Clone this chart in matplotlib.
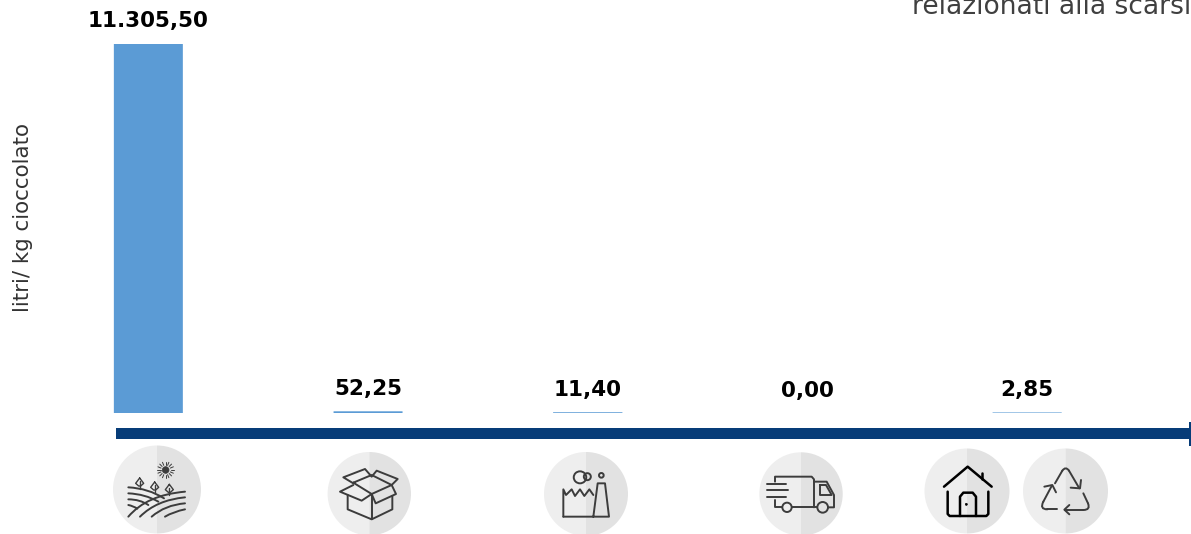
import numpy as np
import matplotlib.pyplot as plt
from matplotlib.patches import Circle, Ellipse, PathPatch, Rectangle, Wedge
from matplotlib.path import Path

# data
values = [11305.50, 52.25, 11.40, 0.00, 2.85]
value_labels = ["11.305,50", "52,25", "11,40", "0,00", "2,85"]
y_label = "litri/ kg cioccolato"
clipped_title = "relazionati alla scarsi"

W, H = 1191, 534
fig = plt.figure(figsize=(W / 100, H / 100), dpi=100)
plt.rcParams['font.family'] = ['DejaVu Sans']

# bar axes, placed so bars land under the icons
left, right, top, bottom = 38.5, 1137, 44, 413
ax = fig.add_axes([left / W, 1 - bottom / H, (right - left) / W, (bottom - top) / H])
x = np.arange(len(values))
bars = ax.bar(x, values, width=0.314, color='#5B9BD5')
for b, v in zip(bars, values):
    b.set_snap(False)
    # tiny bars still show as a hairline
    if 0 < v < 20:
        b.set_edgecolor('#5B9BD5')
        b.set_linewidth(0.3)
ax.set_xlim(-0.5, 4.5)
ax.set_ylim(0, max(values))
ax.set_xticks([])
ax.set_yticks([])
for s in ax.spines.values():
    s.set_visible(False)
ax.patch.set_alpha(0)
ax.bar_label(bars, labels=value_labels, padding=9, fontsize=15.5, fontweight='bold',
             color='black', clip_on=False)
ax.set_ylabel(y_label, fontsize=15.4, color='#333333')
ax.yaxis.set_label_coords((33 - left) / (right - left), (bottom - 218) / (bottom - top))

# overlay in pixel coords for the axis arrow and icons
ov = fig.add_axes([0, 0, 1, 1])
ov.set_xlim(0, W)
ov.set_ylim(H, 0)
ov.axis('off')
ov.patch.set_alpha(0)

NAVY = '#073C78'
ov.add_patch(Rectangle((116, 428), 1074, 11, color=NAVY, lw=0))
ov.add_patch(Rectangle((1188.5, 421.5), 2.5, 24, color=NAVY, lw=0))
ov.text(912, 14, clipped_title, fontsize=19.1, color='#404040', va='baseline', ha='left')


def disc(cx, cy, r):
    ov.add_patch(Wedge((cx, cy), r, 90, 270, color='#EEEEEE', lw=0))
    ov.add_patch(Wedge((cx, cy), r, 270, 90, color='#E2E2E2', lw=0))


def line(pts, org, lw=1.4, c='#3C3C3C'):
    p = np.array(pts, dtype=float) / 3 + org
    ov.plot(p[:, 0], p[:, 1], color=c, lw=lw, solid_capstyle='round', solid_joinstyle='round')


def curve(a, b, d, org, lw=1.4, c='#3C3C3C'):
    p = np.array([a, b, d], dtype=float) / 3 + org
    ov.add_patch(PathPatch(Path(p, [Path.MOVETO, Path.CURVE3, Path.CURVE3]),
                           fill=False, ec=c, lw=lw, capstyle='round'))


def ring(cx, cy, r, org, lw=1.4, c='#3C3C3C', fill=False):
    ov.add_patch(Circle(((cx / 3 + org[0]), (cy / 3 + org[1])), r / 3, fill=fill,
                        fc=c, ec=c, lw=lw))


disc(157, 489.5, 44)
disc(369.3, 493.7, 41.7)
disc(586, 494, 42)
disc(801, 494, 41.7)
disc(967, 491, 42.5)
disc(1065.5, 491, 42.5)

# field icon
o1 = np.array([90, 420])
ring(227, 150, 10, o1, lw=0.5, fill=True)
for a in np.linspace(0, 2 * np.pi, 16, endpoint=False):
    line([(227 + 15 * np.cos(a), 150 + 15 * np.sin(a)),
          (227 + 25 * np.cos(a), 150 + 25 * np.sin(a))], o1, lw=0.7)
for px, py in [(149, 188), (194, 200), (238, 207)]:
    line([(px, py - 14), (px + 12, py + 2), (px + 3, py + 10), (px - 3, py + 10),
          (px - 12, py + 2), (px, py - 14)], o1, lw=1.0)
    line([(px, py - 4), (px, py + 18)], o1, lw=1.0)
curve((115, 202), (175, 205), (222, 235), o1)
curve((115, 220), (165, 222), (205, 245), o1)
curve((115, 238), (150, 238), (175, 255), o1)
curve((115, 255), (130, 258), (142, 266), o1)
curve((115, 290), (170, 225), (285, 215), o1)
curve((150, 290), (200, 240), (285, 232), o1)
curve((185, 290), (225, 255), (285, 250), o1)
curve((225, 290), (250, 275), (285, 268), o1)

# box icon
line([(790, 188), (845, 165), (905, 195), (845, 222), (790, 188)], o1)
line([(790, 190), (760, 172), (825, 147), (845, 170), (860, 152), (923, 177), (905, 195)], o1)
line([(790, 195), (750, 215), (815, 242), (845, 222), (857, 250), (918, 222), (905, 195)], o1)
line([(773, 225), (773, 268), (845, 298), (907, 268), (907, 228)], o1)
line([(845, 222), (845, 298)], o1)

# factory icon
o2 = np.array([530, 420])
line([(100, 290), (237, 290), (225, 190), (203, 190), (190, 290)], o2)
line([(100, 290), (100, 208), (108, 225), (125, 208), (135, 228), (150, 208), (163, 228),
      (178, 208), (190, 225)], o2)
ov.add_patch(Ellipse((o2[0] + 150 / 3, o2[1] + 172 / 3), 12.5, 12, fill=False, ec='#3C3C3C', lw=1.4))
ov.add_patch(Ellipse((o2[0] + 172 / 3, o2[1] + 170 / 3), 7, 7, fill=False, ec='#3C3C3C', lw=1.4))
ring(214, 166, 7, o2)

# truck icon
line([(735, 185), (735, 170), (845, 170), (852, 178), (852, 262)], o2)
line([(735, 240), (735, 262), (755, 262)], o2)
line([(787, 262), (862, 262)], o2)
for ly, lx in [(192, 768), (210, 775), (230, 768)]:
    line([(712, ly), (lx, ly)], o2)
line([(852, 185), (890, 185), (912, 225), (912, 262), (895, 262)], o2)
line([(870, 195), (888, 195), (905, 225), (870, 225), (870, 195)], o2)
ring(771, 262, 14, o2)
ring(878, 262, 16, o2)

# house icon
o3 = np.array([900, 420])
line([(132, 200), (203, 140), (275, 200)], o3, lw=1.8, c='black')
line([(247, 158), (247, 178)], o3, lw=1.8, c='black')
line([(143, 215), (143, 282), (149, 288), (259, 288), (265, 282), (265, 215)], o3, lw=1.8, c='black')
line([(180, 288), (180, 230), (190, 218), (218, 218), (228, 230), (228, 288)], o3, lw=1.8, c='black')
ring(199, 253, 3, o3, lw=0.5, c='black', fill=True)

# recycle icon
line([(465, 190), (487, 152)], o3)
curve((487, 152), (497, 138), (507, 152), o3)
line([(507, 152), (538, 205)], o3)
line([(512, 203), (540, 205), (543, 180)], o3)
line([(550, 220), (564, 250)], o3)
curve((564, 250), (572, 270), (550, 270), o3)
line([(550, 270), (495, 270)], o3)
line([(508, 255), (493, 269), (508, 283)], o3)
line([(470, 268), (442, 268)], o3)
curve((442, 268), (418, 268), (430, 245), o3)
line([(430, 245), (455, 198)], o3)
line([(433, 200), (457, 195), (468, 217)], o3)

fig.savefig('out.png', dpi=100)
